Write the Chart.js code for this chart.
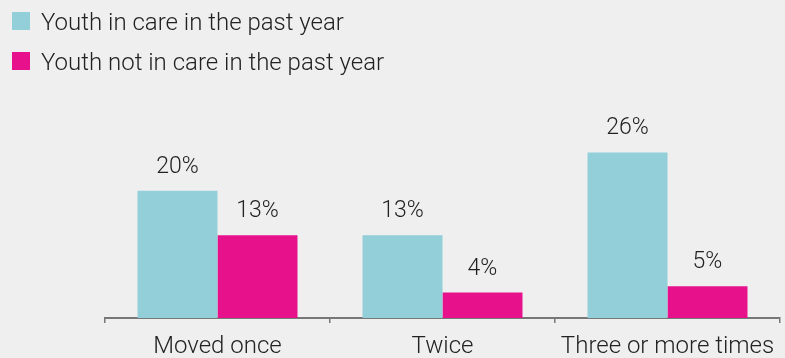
<!DOCTYPE html>
<html>
<head>
<meta charset="utf-8">
<script src="https://cdn.jsdelivr.net/npm/chart.js@4"></script>
<style>
  html, body { margin: 0; padding: 0; background: #efefef; }
  #wrap { width: 785px; height: 358px; }
</style>
</head>
<body>
<div id="wrap"><canvas id="moves"></canvas></div>
<script>
const categories = ['Moved once', 'Twice', 'Three or more times'];
const inCare = [20, 13, 26];      // % youth in care in the past year
const notInCare = [13, 4, 5];     // % youth not in care in the past year
const seriesNames = ['Youth in care in the past year', 'Youth not in care in the past year'];

const teal = '#92cfd9';
const pink = '#e8118c';
const textColor = '#222';
const fontFamily = 'Roboto, "Noto Sans", sans-serif';

// value labels above each bar
const barLabels = {
  id: 'barLabels',
  afterDatasetsDraw(chart) {
    const ctx = chart.ctx;
    ctx.save();
    ctx.font = '300 23px ' + fontFamily;
    ctx.fillStyle = textColor;
    ctx.textAlign = 'center';
    ctx.textBaseline = 'alphabetic';
    chart.data.datasets.forEach((ds, i) => {
      chart.getDatasetMeta(i).data.forEach((bar, j) => {
        ctx.fillText(ds.data[j] + '%', bar.x, bar.y - 18);
      });
    });
    ctx.restore();
  }
};

// stacked legend in the top-left corner
const stackedLegend = {
  id: 'stackedLegend',
  afterDraw(chart) {
    const ctx = chart.ctx;
    ctx.save();
    ctx.font = '300 24px ' + fontFamily;
    ctx.textAlign = 'left';
    ctx.textBaseline = 'alphabetic';
    chart.data.datasets.forEach((ds, i) => {
      const top = 12 + i * 40;
      ctx.fillStyle = ds.backgroundColor;
      ctx.fillRect(12, top, 18, 18);
      ctx.fillStyle = textColor;
      ctx.fillText(ds.label, 41, top + 17.5);
    });
    ctx.restore();
  }
};

new Chart(document.getElementById('moves'), {
  type: 'bar',
  data: {
    labels: categories,
    datasets: [
      { label: seriesNames[0], data: inCare, backgroundColor: teal },
      { label: seriesNames[1], data: notInCare, backgroundColor: pink }
    ]
  },
  options: {
    responsive: true,
    maintainAspectRatio: false,
    animation: false,
    categoryPercentage: 0.711,
    barPercentage: 1.0,
    layout: { padding: { top: 127, left: 0, right: 5, bottom: 0 } },
    plugins: {
      legend: { display: false },
      tooltip: { enabled: false }
    },
    scales: {
      x: {
        afterFit: s => { s.height = 40; },
        grid: {
          display: true,
          offset: true,
          drawOnChartArea: false,
          drawTicks: true,
          tickLength: 5,
          color: '#777',
          lineWidth: 1.5
        },
        border: { display: true, color: '#777', width: 2 },
        ticks: {
          color: textColor,
          padding: 10,
          font: { family: fontFamily, size: 24, weight: 300 }
        }
      },
      y: {
        min: 0,
        max: 30,
        afterFit: s => { s.width = 105; },
        grid: { display: false },
        border: { display: false },
        ticks: { display: false }
      }
    }
  },
  plugins: [barLabels, stackedLegend]
});
</script>
</body>
</html>
